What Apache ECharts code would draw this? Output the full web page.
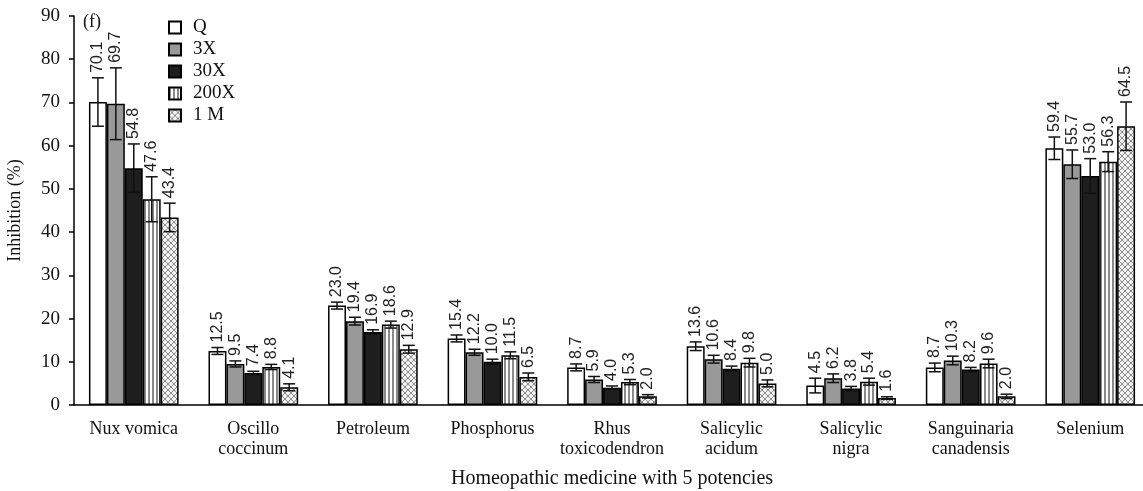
<!DOCTYPE html>
<html>
<head>
<meta charset="utf-8">
<script src="https://cdn.jsdelivr.net/npm/echarts@6/dist/echarts.min.js"></script>
<style>html,body{margin:0;padding:0;background:#fff;}#c{width:1143px;height:491px;}</style>
</head>
<body>
<div id="c"></div>
<script>
const categories = ['Nux vomica','Oscillo\ncoccinum','Petroleum','Phosphorus','Rhus\ntoxicodendron','Salicylic\nacidum','Salicylic\nnigra','Sanguinaria\ncanadensis','Selenium'];
const potencies = ['Q','3X','30X','200X','1 M'];
const valQ    = [70.1, 12.5, 23.0, 15.4, 8.7, 13.6, 4.5, 8.7, 59.4];
const val3X   = [69.7, 9.5, 19.4, 12.2, 5.9, 10.6, 6.2, 10.3, 55.7];
const val30X  = [54.8, 7.4, 16.9, 10.0, 4.0, 8.4, 3.8, 8.2, 53.0];
const val200X = [47.6, 8.8, 18.6, 11.5, 5.3, 9.8, 5.4, 9.6, 56.3];
const val1M   = [43.4, 4.1, 12.9, 6.5, 2.0, 5.0, 1.6, 2.0, 64.5];
const errQ    = [5.6, 0.8, 0.8, 0.8, 0.8, 1.0, 1.7, 1.0, 2.6];
const err3X   = [8.3, 0.7, 0.9, 0.7, 0.7, 0.9, 1.0, 1.0, 3.3];
const err30X  = [5.6, 0.4, 0.5, 0.6, 0.4, 0.6, 0.5, 0.5, 4.0];
const err200X = [5.2, 0.6, 0.8, 0.8, 0.6, 1.0, 0.8, 1.0, 2.3];
const err1M   = [3.3, 0.8, 0.9, 0.9, 0.4, 0.8, 0.3, 0.5, 5.6];
const yTicks = [0, 10, 20, 30, 40, 50, 60, 70, 80, 90];

const values = [valQ, val3X, val30X, val200X, val1M];
const errors = [errQ, err3X, err30X, err200X, err1M];

function stripeCanvas(){
  const c = document.createElement('canvas'); c.width = 4; c.height = 4;
  const g = c.getContext('2d');
  g.fillStyle = '#fff'; g.fillRect(0,0,4,4);
  g.fillStyle = '#8a8a8a'; g.fillRect(0,0,2,4);
  return c;
}
function hatchCanvas(){
  const c = document.createElement('canvas'); c.width = 6; c.height = 6;
  const g = c.getContext('2d');
  g.fillStyle = '#f2f2f2'; g.fillRect(0,0,6,6);
  g.strokeStyle = '#8a8a8a'; g.lineWidth = 1;
  g.beginPath(); g.moveTo(0,0); g.lineTo(6,6); g.moveTo(6,0); g.lineTo(0,6); g.stroke();
  return c;
}
const fills = ['#ffffff', '#999999', '#1e1e1e',
  {image: stripeCanvas(), repeat: 'repeat'},
  {image: hatchCanvas(), repeat: 'repeat'}];

const serif = 'Liberation Serif';
const series = [];
potencies.forEach((p, i) => {
  series.push({
    name: p, type: 'bar', data: values[i],
    barGap: '0%', barCategoryGap: '25%',
    itemStyle: {color: fills[i], borderColor: '#000', borderWidth: 1.5},
    emphasis: {disabled: true}
  });
});
potencies.forEach((p, i) => {
  series.push({
    type: 'custom', name: 'err' + i,
    data: values[i].map((v, k) => [k, v, errors[i][k]]),
    encode: {x: 0, y: 1},
    z: 5,
    renderItem: function(params, api){
      const k = api.value(0), v = api.value(1), e = api.value(2);
      const catW = api.size([1, 0])[0];
      const bw = catW * 0.75 / 5;
      const c = api.coord([k, v]);
      const x = c[0] + (i - 2) * bw;
      const yHi = api.coord([k, v + e])[1];
      const yLo = api.coord([k, v - e])[1];
      const cw = 6;
      const ls = {stroke: '#111', lineWidth: 1.5};
      return {type: 'group', children: [
        {type: 'line', shape: {x1: x, y1: yHi, x2: x, y2: yLo}, style: ls},
        {type: 'line', shape: {x1: x - cw, y1: yHi, x2: x + cw, y2: yHi}, style: ls},
        {type: 'line', shape: {x1: x - cw, y1: yLo, x2: x + cw, y2: yLo}, style: ls},
        {type: 'text', x: x, y: yHi - 5, rotation: Math.PI / 2,
          style: {text: v.toFixed(1), fontFamily: 'Liberation Sans', fontSize: 16, fill: '#222',
            align: 'left', verticalAlign: 'middle'}}
      ]};
    }
  });
});

const chart = echarts.init(document.getElementById('c'));
chart.setOption({
  animation: false,
  backgroundColor: '#fff',
  grid: {left: 74, right: -7, top: 16, bottom: 86, containLabel: false, outerBoundsMode: 'none'},
  legend: {
    data: potencies, orient: 'vertical', left: 163, top: 13,
    icon: 'rect', itemWidth: 12, itemHeight: 12, itemGap: 3,
    selectedMode: false,
    textStyle: {fontFamily: serif, fontSize: 19, color: '#111', lineHeight: 18, padding: [0, 0, 0, 7]}
  },
  graphic: [{type: 'text', left: 83, top: 13, style: {text: '(f)', fontFamily: serif, fontSize: 18, fill: '#111'}}],
  xAxis: {
    type: 'category', data: categories,
    name: 'Homeopathic medicine with 5 potencies', nameLocation: 'middle', nameGap: 64,
    nameTextStyle: {fontFamily: serif, fontSize: 20, color: '#111'},
    axisLine: {lineStyle: {color: '#000', width: 1.5}},
    axisTick: {length: 8, lineStyle: {color: '#000', width: 1.5}},
    axisLabel: {fontFamily: serif, fontSize: 18, color: '#111', margin: 14, lineHeight: 20, interval: 0}
  },
  yAxis: {
    type: 'value', min: 0, max: 90, interval: 10,
    name: 'Inhibition (%)', nameLocation: 'middle', nameGap: 50,
    nameTextStyle: {fontFamily: serif, fontSize: 18, color: '#111'},
    axisLine: {show: true, lineStyle: {color: '#000', width: 1.5}},
    axisTick: {show: true, length: 5, lineStyle: {color: '#000', width: 1.5}},
    axisLabel: {fontFamily: serif, fontSize: 19, color: '#111', margin: 14,
      formatter: v => yTicks.indexOf(v) >= 0 ? String(v) : ''},
    splitLine: {show: false}
  },
  series: series
});
</script>
</body>
</html>
